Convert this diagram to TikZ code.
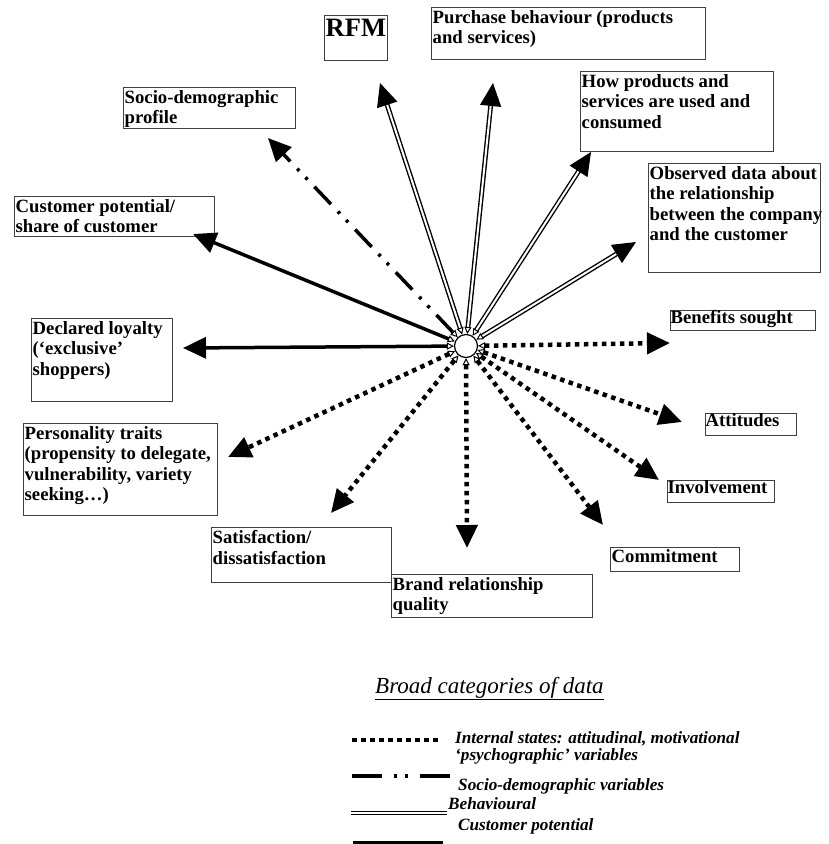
\documentclass[tikz,border=0pt]{standalone}
\usepackage{fontspec}
\setmainfont{Liberation Serif}
\usetikzlibrary{arrows.meta}
\tikzset{
  box/.style={draw=black!75, line width=1.2pt, anchor=north west, inner sep=0pt},
  lbl/.style={anchor=north west, align=left, inner sep=1.5pt, yshift=-2pt, font=\fontsize{18.7}{20.3}\selectfont\bfseries},
  arr/.style={arrows={{Triangle[open,length=7pt,width=7pt,line width=1pt]}-{Triangle[length=23pt,width=21pt]}}},
  internal/.style={arr, line width=4.5pt, dash pattern=on 4.5pt off 4.5pt},
  sociodemo/.style={arr, line width=3.5pt, dash pattern=on 24pt off 10pt on 3pt off 9pt on 3pt off 10pt},
  behav/.style={arr, double, line width=1.4pt, double distance=2pt},
  potential/.style={arr, line width=3.5pt},
  keytext/.style={anchor=base west, inner sep=0pt, align=left, font=\fontsize{17.2}{17.5}\selectfont\bfseries\itshape},
}
\begin{document}
\begin{tikzpicture}[x=1pt, y=-1pt]
  \useasboundingbox (0,0) rectangle (829,844);
  % boxes
  \node [box, minimum width=63pt, minimum height=45pt, label={[lbl, font=\fontsize{26.5}{28}\selectfont\bfseries]north west:RFM}] (rfm) at (324,15) {};
  \node [box, minimum width=274pt, minimum height=52pt, label={[lbl]north west:{Purchase behaviour (products\\and services)}}] (purch) at (431,7) {};
  \node [box, minimum width=193pt, minimum height=80pt, label={[lbl]north west:{How products and\\services are used and\\consumed}}] (how) at (580,71) {};
  \node [box, minimum width=172pt, minimum height=109pt, label={[lbl]north west:{Observed data about\\the relationship\\between the company\\and the customer}}] (obs) at (648,163) {};
  \node [box, minimum width=172pt, minimum height=41pt, label={[lbl]north west:{Socio-demographic\\profile}}] (socio) at (123,87) {};
  \node [box, minimum width=200pt, minimum height=40pt, label={[lbl]north west:{Customer potential/\\share of customer}}] (pot) at (14,196) {};
  \node [box, minimum width=141pt, minimum height=83pt, label={[lbl]north west:{Declared loyalty\\(‘exclusive’\\shoppers)}}] (loyal) at (31,318) {};
  \node [box, minimum width=194pt, minimum height=92pt, label={[lbl]north west:{Personality traits\\(propensity to delegate,\\vulnerability, variety\\seeking…)}}] (pers) at (23,423) {};
  \node [box, minimum width=180pt, minimum height=55pt, label={[lbl]north west:{Satisfaction/\\dissatisfaction}}] (sat) at (211,527) {};
  \node [box, minimum width=201pt, minimum height=43pt, label={[lbl]north west:{Brand relationship\\quality}}] (brand) at (391,574) {};
  \node [box, minimum width=129pt, minimum height=24pt, label={[lbl, yshift=1pt]north west:Commitment}] (com) at (610,547) {};
  \node [box, minimum width=145pt, minimum height=20pt, label={[lbl, inner sep=0.5pt, yshift=2pt]north west:Benefits sought}] (ben) at (670,310) {};
  \node [box, minimum width=91pt, minimum height=22pt, label={[lbl, inner sep=0.5pt, yshift=2pt]north west:Attitudes}] (att) at (705,413) {};
  \node [box, minimum width=107pt, minimum height=22pt, label={[lbl, inner sep=0.5pt, yshift=2pt]north west:Involvement}] (inv) at (667,480) {};

  % centre and arrow ends
  \node [draw, circle, minimum size=23pt, inner sep=0pt, line width=1.2pt, fill=white] (hub) at (466,346) {};
  \coordinate (tRFM) at (380,83);
  \coordinate (tPurch) at (493,83);
  \coordinate (tHow) at (591,152);
  \coordinate (tObs) at (636,242);
  \coordinate (tSocio) at (268,138);
  \coordinate (tPot) at (193,234);
  \coordinate (tLoyal) at (183,348);
  \coordinate (tBen) at (670,343);
  \coordinate (tAtt) at (682,422);
  \coordinate (tInv) at (659,480);
  \coordinate (tCom) at (603,525);
  \coordinate (tBrand) at (467,548);
  \coordinate (tSat) at (331,513);
  \coordinate (tPers) at (228,457);

  \draw [behav] (hub) -- (tRFM);
  \draw [behav] (hub) -- (tPurch);
  \draw [behav] (hub) -- (tHow);
  \draw [behav] (hub) -- (tObs);
  \draw [sociodemo] (hub) -- (tSocio);
  \draw [potential] (hub) -- (tPot);
  \draw [potential] (hub) -- (tLoyal);
  \draw [internal] (hub) -- (tBen);
  \draw [internal] (hub) -- (tAtt);
  \draw [internal] (hub) -- (tInv);
  \draw [internal] (hub) -- (tCom);
  \draw [internal] (hub) -- (tBrand);
  \draw [internal] (hub) -- (tSat);
  \draw [internal] (hub) -- (tPers);

  % key
  \node [anchor=base west, inner sep=0pt, font=\fontsize{23}{26}\selectfont\itshape] (keytitle) at (375,693) {\underline{Broad categories of data}};
  \draw [line width=4.5pt, dash pattern=on 4.5pt off 4.5pt] (352,740) -- (440,740);
  \node [keytext, anchor=north west] (kint) at (455,731) {Internal states: attitudinal, motivational\\‘psychographic’ variables};
  \draw [line width=3.5pt, dash pattern=on 30pt off 12pt on 3pt off 8pt on 3pt off 12pt] (352,776) -- (450,776);
  \node [keytext] (ksoc) at (458,790) {Socio-demographic variables};
  \draw [double, line width=1.3pt, double distance=1.8pt] (351,813) -- (447,813);
  \node [keytext] (kbeh) at (448,809) {Behavioural};
  \draw [line width=3pt] (353,842) -- (443,842);
  \node [keytext] (kpot) at (458,830) {Customer potential};
\end{tikzpicture}
\end{document}
